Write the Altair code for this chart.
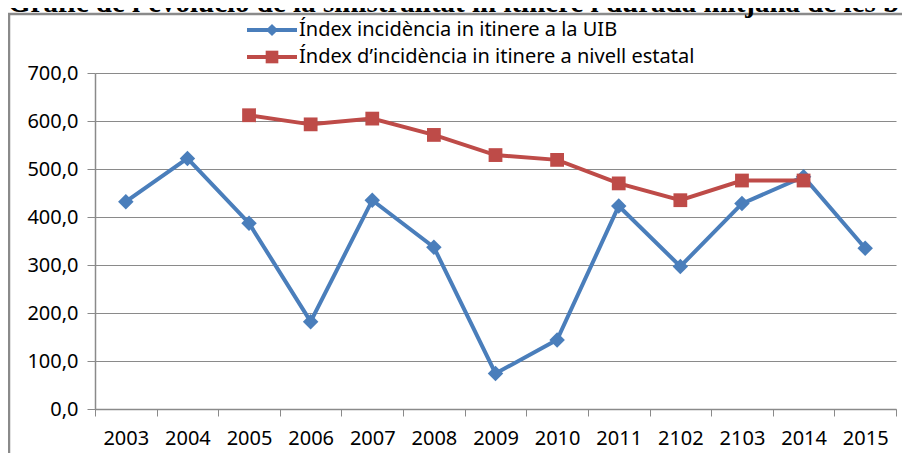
import altair as alt
import pandas as pd

years = ["2003", "2004", "2005", "2006", "2007", "2008", "2009", "2010", "2011", "2102", "2103", "2014", "2015"]
uib = [432, 522, 387, 182, 435, 337, 74, 144, 423, 297, 428, 484, 335]
estatal = [None, None, 612, 593, 605, 571, 529, 519, 470, 435, 476, 476, None]
series_names = ["Índex incidència in itinere a la UIB",
                "Índex d\u2019incidència in itinere a nivell estatal"]
title_text = "Gràfic de l'evolució de la sinistralitat in itinere i durada mitjana de les b"

BLUE = "#4a7ebb"
RED = "#be4b48"
GRAY = "#8a8a8a"
FONT = "Noto Sans"

W, H = 801, 336
N = len(years)

rows = []
for i, (y, a, b) in enumerate(zip(years, uib, estatal)):
    rows.append({"year": y, "value": a, "series": series_names[0]})
    if b is not None:
        rows.append({"year": y, "value": b, "series": series_names[1]})
df = pd.DataFrame(rows)
df_uib = df[df.series == series_names[0]]
df_est = df[df.series == series_names[1]]

x_enc = alt.X(
    "year:N",
    sort=years,
    scale=alt.Scale(type="band", domain=years, paddingInner=0, paddingOuter=0),
    axis=alt.Axis(
        tickBand="extent",
        labelFont=FONT, labelFontSize=20, labelColor="#000000", labelAngle=0,
        labelPadding=12, labelFlush=False, labelOverlap=False, labelBound=False,
        tickSize=7, tickColor=GRAY, domainColor=GRAY, domainWidth=1.5,
        grid=False, title=None,
    ),
)
y_enc = alt.Y(
    "value:Q",
    scale=alt.Scale(domain=[0, 700], nice=False),
    axis=alt.Axis(
        values=list(range(0, 701, 100)),
        labelExpr="replace(format(datum.value, '.1f'), '.', ',')",
        labelFont=FONT, labelFontSize=20, labelColor="#000000",
        labelPadding=9, tickSize=8, tickColor=GRAY,
        domainColor=GRAY, domainWidth=1.5,
        grid=True, gridColor=GRAY, gridWidth=1.2, title=None,
    ),
)

one = pd.DataFrame({"a": [0]})

frame = alt.Chart(one).mark_rect(fill=None, stroke=GRAY, strokeWidth=2.5).encode(
    x=alt.value(-86), x2=alt.value(W + 60), y=alt.value(-59), y2=alt.value(H + 90)
)
title = alt.Chart(one).mark_text(
    font="Liberation Serif", fontWeight="bold", fontSize=29, align="left",
    baseline="alphabetic", color="#000000"
).encode(x=alt.value(-87), y=alt.value(-61), text=alt.value(title_text))

line_uib = alt.Chart(df_uib).mark_line(color=BLUE, strokeWidth=4).encode(x=x_enc, y=y_enc)
pts_uib = alt.Chart(df_uib).mark_point(shape="diamond", filled=True, size=240, color=BLUE, opacity=1).encode(x=x_enc, y=y_enc)
line_est = alt.Chart(df_est).mark_line(color=RED, strokeWidth=4).encode(x=x_enc, y=y_enc)
pts_est = alt.Chart(df_est).mark_point(shape="square", filled=True, size=190, color=RED, opacity=1).encode(x=x_enc, y=y_enc)

legend_layers = []
shapes = ["diamond", "square"]
sizes = [150, 160]
colors = [BLUE, RED]
for r, name in enumerate(series_names):
    ry = -43 + r * 27
    legend_layers.append(alt.Chart(one).mark_rule(color=colors[r], strokeWidth=4).encode(
        x=alt.value(152), x2=alt.value(202), y=alt.value(ry)))
    legend_layers.append(alt.Chart(one).mark_point(shape=shapes[r], filled=True, size=sizes[r], color=colors[r], opacity=1).encode(
        x=alt.value(177), y=alt.value(ry)))
    legend_layers.append(alt.Chart(one).mark_text(font=FONT, fontSize=20, align="left", baseline="middle", color="#000000").encode(
        x=alt.value(204), y=alt.value(ry), text=alt.value(name)))

chart = alt.layer(
    frame, title, line_uib, pts_uib, line_est, pts_est, *legend_layers
).properties(
    width=W, height=H,
    autosize=alt.AutoSizeParams(type="none"),
    padding={"left": 87, "top": 65, "right": 6, "bottom": 44},
    background="white",
).configure_view(stroke=None)

chart.save("out.html", embed_options={"renderer": "svg", "actions": False})
